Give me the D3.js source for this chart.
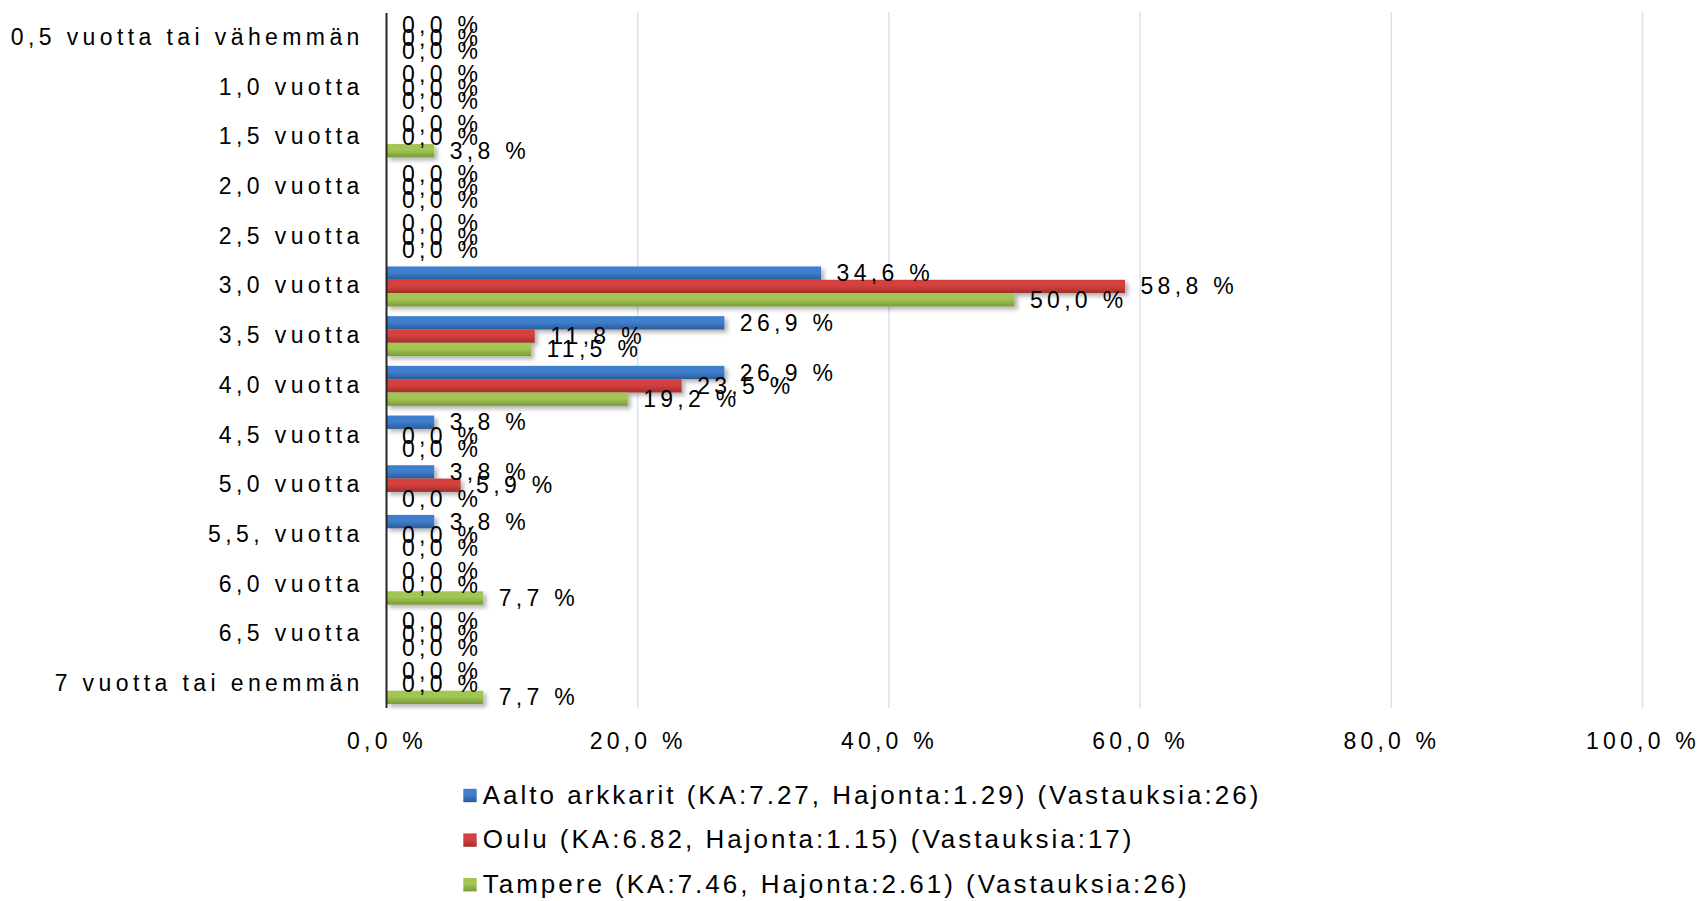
<!DOCTYPE html>
<html>
<head>
<meta charset="utf-8">
<script src="https://cdn.jsdelivr.net/npm/d3@7"></script>
<style>
  body { margin: 0; background: #fff; }
  text { font-family: "Liberation Sans", Arial, sans-serif; fill: #000; }
</style>
</head>
<body>
<div class="svg-mount"></div>
<script>
const categories = [
  "0,5 vuotta tai vähemmän",
  "1,0 vuotta",
  "1,5 vuotta",
  "2,0 vuotta",
  "2,5 vuotta",
  "3,0 vuotta",
  "3,5 vuotta",
  "4,0 vuotta",
  "4,5 vuotta",
  "5,0 vuotta",
  "5,5, vuotta",
  "6,0 vuotta",
  "6,5 vuotta",
  "7 vuotta tai enemmän",
];
const seriesNames = [
  "Aalto arkkarit (KA:7.27, Hajonta:1.29) (Vastauksia:26)",
  "Oulu (KA:6.82, Hajonta:1.15) (Vastauksia:17)",
  "Tampere (KA:7.46, Hajonta:2.61) (Vastauksia:26)",
];
const aalto = [0, 0, 0, 0, 0, 34.6, 26.9, 26.9, 3.8, 3.8, 3.8, 0, 0, 0];
const oulu = [0, 0, 0, 0, 0, 58.8, 11.8, 23.5, 0, 5.9, 0, 0, 0, 0];
const tampere = [0, 0, 3.8, 0, 0, 50.0, 11.5, 19.2, 0, 0, 0, 7.7, 0, 7.7];
const xTicks = [0, 20, 40, 60, 80, 100];

const seriesValues = [aalto, oulu, tampere];
// top / bottom of the bar gradient
const colors = [
  ["#3f7fce", "#2c5b98"],
  ["#d3413e", "#a22e2c"],
  ["#a1c652", "#799a39"],
];

const actual_width = 1702;
const actual_height = 901;
const plot = { left: 386.5, right: 1642.5, top: 12, bottom: 708 };

const svg = d3
  .select(".svg-mount")
  .append("svg")
  .attr("width", actual_width)
  .attr("height", actual_height);

const defs = svg.append("defs");
colors.forEach((c, i) => {
  const grad = defs
    .append("linearGradient")
    .attr("id", "grad" + i)
    .attr("x1", 0)
    .attr("y1", 0)
    .attr("x2", 0)
    .attr("y2", 1);
  grad.append("stop").attr("offset", "0%").attr("stop-color", c[0]);
  grad.append("stop").attr("offset", "45%").attr("stop-color", c[0]);
  grad.append("stop").attr("offset", "100%").attr("stop-color", c[1]);
});
defs
  .append("filter")
  .attr("id", "shadow")
  .attr("x", "-5%")
  .attr("y", "-30%")
  .attr("width", "120%")
  .attr("height", "180%")
  .append("feDropShadow")
  .attr("dx", 3)
  .attr("dy", 3)
  .attr("stdDeviation", 2)
  .attr("flood-color", "#000")
  .attr("flood-opacity", 0.3);

const x = d3.scaleLinear().domain([0, 100]).range([plot.left, plot.right]);
const y = d3
  .scaleBand()
  .domain(categories)
  .range([plot.top, plot.bottom])
  .paddingInner(0.195)
  .paddingOuter(0.1);
const ySeries = d3
  .scaleBand()
  .domain(d3.range(seriesValues.length))
  .range([0, y.bandwidth()]);

const fmt = (v) => v.toFixed(1).replace(".", ",") + " %";

// gridlines
svg
  .append("g")
  .selectAll("line")
  .data(xTicks.slice(1))
  .join("line")
  .attr("x1", x)
  .attr("x2", x)
  .attr("y1", plot.top)
  .attr("y2", plot.bottom)
  .attr("stroke", "#d8e2ef")
  .attr("stroke-width", 1.5);

// bars
const groups = svg
  .append("g")
  .selectAll("g")
  .data(categories)
  .join("g")
  .attr("transform", (d) => `translate(0,${y(d) + 1})`);

groups
  .selectAll("rect")
  .data((d, i) => seriesValues.map((s, k) => ({ k, v: s[i] })))
  .join("rect")
  .filter((d) => d.v > 0)
  .attr("x", x(0))
  .attr("y", (d) => ySeries(d.k))
  .attr("width", (d) => x(d.v) - x(0))
  .attr("height", ySeries.bandwidth())
  .attr("fill", (d) => `url(#grad${d.k})`)
  .attr("filter", "url(#shadow)");

// value axis line
svg
  .append("line")
  .attr("x1", x(0))
  .attr("x2", x(0))
  .attr("y1", plot.top + 1)
  .attr("y2", plot.bottom)
  .attr("stroke", "#262626")
  .attr("stroke-width", 2);

// data labels
groups
  .selectAll("text")
  .data((d, i) => seriesValues.map((s, k) => ({ k, v: s[i] })))
  .join("text")
  .attr("x", (d) => x(d.v) + 15.5)
  .attr("y", (d) => ySeries(d.k) + ySeries.bandwidth() / 2)
  .attr("dominant-baseline", "central")
  .attr("font-size", 23)
  .attr("letter-spacing", 4.3)
  .text((d) => fmt(d.v));

// category axis
const yAxis = svg
  .append("g")
  .attr("transform", `translate(${x(0)},0)`)
  .call(d3.axisLeft(y).tickSize(0).tickPadding(22.7));
yAxis.select(".domain").remove();
yAxis
  .selectAll("text")
  .attr("font-size", 23)
  .attr("font-family", null)
  .attr("letter-spacing", 4.4)
  .attr("dy", null)
  .attr("dominant-baseline", "central");

// value axis labels
const xAxis = svg
  .append("g")
  .attr("transform", `translate(0,${plot.bottom})`)
  .call(
    d3
      .axisBottom(x)
      .tickValues(xTicks)
      .tickSize(0)
      .tickFormat((d) => fmt(d))
  );
xAxis.select(".domain").remove();
xAxis
  .selectAll("text")
  .attr("font-size", 23)
  .attr("font-family", null)
  .attr("letter-spacing", 4.2)
  .attr("y", 32.5)
  .attr("dy", null)
  .attr("dominant-baseline", "central");

// legend
const legend = svg
  .append("g")
  .selectAll("g")
  .data(seriesNames)
  .join("g")
  .attr("transform", (d, i) => `translate(463.3,${794.5 + i * 44.6})`);
legend
  .append("rect")
  .attr("x", 0)
  .attr("y", -5.7)
  .attr("width", 13.4)
  .attr("height", 13.4)
  .attr("fill", (d, i) => `url(#grad${i})`);
legend
  .append("text")
  .attr("x", 19.4)
  .attr("y", 0)
  .attr("dominant-baseline", "central")
  .attr("font-size", 26)
  .attr("letter-spacing", 3.0)
  .text((d) => d);
</script>
</body>
</html>
